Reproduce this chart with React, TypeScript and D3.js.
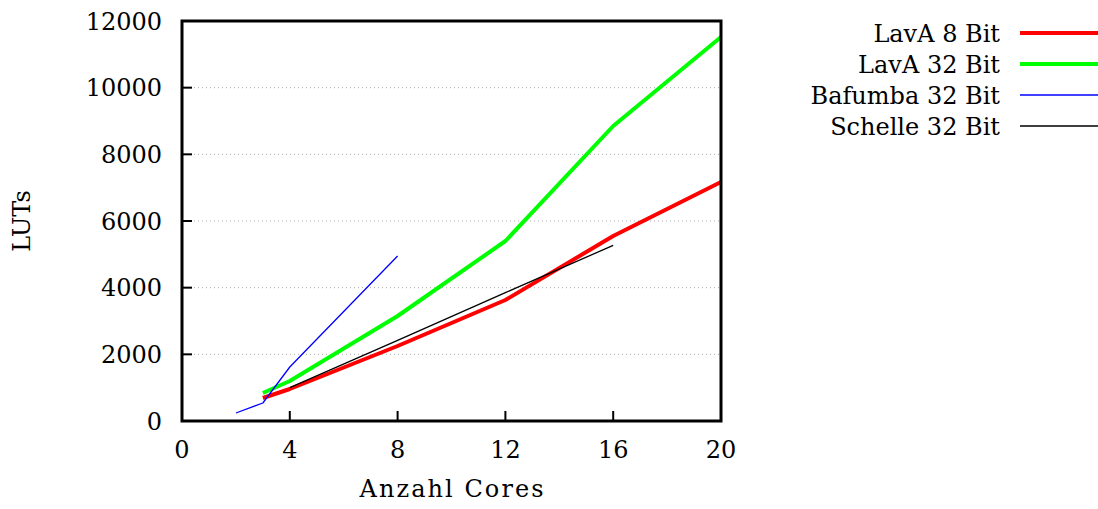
import React from 'react';
import * as d3 from 'd3';

// values
const lava8X = [3, 4, 8, 12, 16, 20];
const lava8Y = [690, 960, 2250, 3630, 5550, 7170];
const lava32X = [3, 4, 8, 12, 16, 20];
const lava32Y = [840, 1200, 3150, 5400, 8850, 11520];
const bafumbaX = [2, 3, 4, 8];
const bafumbaY = [240, 540, 1620, 4950];
const schelleX = [4, 8, 12, 16];
const schelleY = [1000, 2420, 3850, 5270];

const xTicks = [0, 4, 8, 12, 16, 20];
const yTicks = [0, 2000, 4000, 6000, 8000, 10000, 12000];

const series = [
  { name: 'LavA 8 Bit', xs: lava8X, ys: lava8Y, color: '#ff0000', width: 4 },
  { name: 'LavA 32 Bit', xs: lava32X, ys: lava32Y, color: '#00ff00', width: 4 },
  { name: 'Bafumba 32 Bit', xs: bafumbaX, ys: bafumbaY, color: '#0000ff', width: 1.3 },
  { name: 'Schelle 32 Bit', xs: schelleX, ys: schelleY, color: '#000000', width: 1.3 },
];

const W = 1098;
const H = 509;
const margin = { top: 21, right: 377, bottom: 88, left: 182 };
const font = "'DejaVu Serif', 'Liberation Serif', serif";
const fs = 24;

const App = () => {
  const x = d3.scaleLinear().domain([0, 20]).range([margin.left, W - margin.right]);
  const y = d3.scaleLinear().domain([0, 12000]).range([H - margin.bottom, margin.top]);
  const line = d3.line<[number, number]>()
    .x(d => x(d[0]))
    .y(d => y(d[1]));

  return (
    <svg width={W} height={H} style={{ position: 'absolute', left: 0, top: 0, background: '#fff' }}>
      {/* grid */}
      {yTicks.slice(1, -1).map(t => (
        <line key={'g' + t} x1={x(0)} x2={x(20)} y1={y(t)} y2={y(t)}
          stroke="#aaa" strokeWidth={1} strokeDasharray="1,3" />
      ))}
      {/* ticks */}
      {yTicks.map(t => (
        <g key={'y' + t}>
          <line x1={x(0)} x2={x(0) + 10} y1={y(t)} y2={y(t)} stroke="#000" strokeWidth={2} />
          <text x={x(0) - 20} y={y(t)} dy="0.36em" textAnchor="end" fontFamily={font} fontSize={fs}>{t}</text>
        </g>
      ))}
      {xTicks.map(t => (
        <g key={'x' + t}>
          <line x1={x(t)} x2={x(t)} y1={y(0)} y2={y(0) - 10} stroke="#000" strokeWidth={2} />
          <text x={x(t)} y={y(0) + 37} textAnchor="middle" fontFamily={font} fontSize={fs}>{t}</text>
        </g>
      ))}
      {/* data */}
      {series.map(s => (
        <path key={s.name}
          d={line(s.xs.map((v, i) => [v, s.ys[i]] as [number, number])) || ''}
          fill="none" stroke={s.color} strokeWidth={s.width} strokeLinejoin="round" />
      ))}
      {/* frame */}
      <rect x={x(0)} y={y(12000)} width={x(20) - x(0)} height={y(0) - y(12000)}
        fill="none" stroke="#000" strokeWidth={3} />
      {/* axis labels */}
      <text x={x(10)} y={H - 12} textAnchor="middle" fontFamily={font} fontSize={fs} textLength={184}>Anzahl Cores</text>
      <text transform={`translate(${30},${y(6000)}) rotate(-90)`} textAnchor="middle" fontFamily={font} fontSize={fs}>LUTs</text>
      {/* legend */}
      {series.map((s, i) => (
        <g key={'l' + s.name}>
          <text x={1000} y={33 + i * 31} dy="0.36em" textAnchor="end" fontFamily={font} fontSize={fs}>{s.name}</text>
          <line x1={1020} x2={1098} y1={33 + i * 31} y2={33 + i * 31} stroke={s.color} strokeWidth={s.width === 4 ? 4 : 1.5} />
        </g>
      ))}
    </svg>
  );
};

export default App;
